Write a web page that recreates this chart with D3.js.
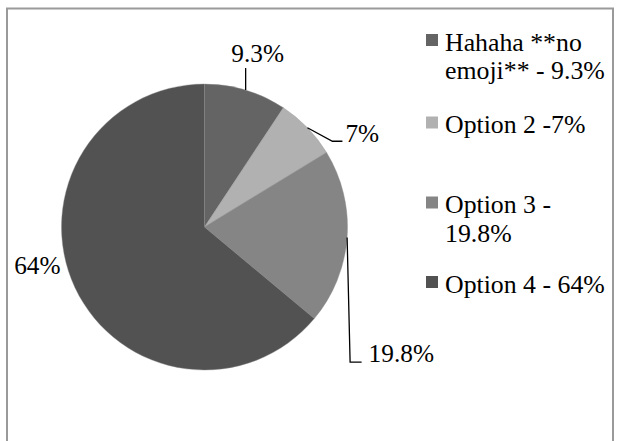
<!DOCTYPE html>
<html>
<head>
<meta charset="utf-8">
<script src="https://cdn.jsdelivr.net/npm/d3@7/dist/d3.min.js"></script>
</head>
<body style="margin:0">
<svg id="chart" width="621" height="441"></svg>
<script>
// Poll results
const categories = ["Hahaha **no emoji**", "Option 2", "Option 3", "Option 4"];
const values = [9.3, 7, 19.8, 64];
const valueLabels = ["9.3%", "7%", "19.8%", "64%"];
const legendLines = [
  ["Hahaha **no", "emoji** - 9.3%"],
  ["Option 2 -7%"],
  ["Option 3 -", "19.8%"],
  ["Option 4 - 64%"]
];
const colors = ["#646464", "#b1b1b1", "#858585", "#525252"];

const cx = 204.5, cy = 227, R = 143;
const labelFontSize = 25.3;
const legendFontSize = 25.8;
const fontFamily = "Times New Roman";

const svg = d3.select("#chart");

// Outer frame
svg.append("rect")
  .attr("x", 7).attr("y", 8.5)
  .attr("width", 606).attr("height", 460)
  .attr("fill", "#fff")
  .attr("stroke", "#9a9a9a")
  .attr("stroke-width", 2);

const data = categories.map((c, i) => ({ name: c, value: values[i], label: valueLabels[i], color: colors[i] }));

const pie = d3.pie().sort(null).value(d => d.value);
const arcs = pie(data);
const arc = d3.arc().innerRadius(0).outerRadius(R);

const g = svg.append("g").attr("transform", `translate(${cx},${cy})`);

g.selectAll("path.slice")
  .data(arcs)
  .join("path")
  .attr("class", "slice")
  .attr("d", arc)
  .attr("fill", d => d.data.color)
  .attr("stroke", "#8c8c8c")
  .attr("stroke-width", 0.4);

// Point on the rim at a slice's mid angle
function rimPoint(d) {
  const a = (d.startAngle + d.endAngle) / 2;
  return [R * Math.sin(a), -R * Math.cos(a)];
}

// Label placement relative to the rim anchor: text position, anchor, and leader bends
const labelLayout = [
  { tx: 12, ty: -28, anchor: "middle", leader: p => [p, [p[0], p[1] - 22]] },
  { tx: 38, ty: 14, anchor: "start", leader: p => [p, [p[0] + 25, p[1] + 13.5], [p[0] + 35, p[1] + 13.5]] },
  { tx: 21.5, ty: 124.5, anchor: "start", leader: p => [p, [p[0] + 3, p[1] + 124.5], [p[0] + 14.5, p[1] + 124.5]] },
  { tx: -14.5, ty: -14, anchor: "end", leader: null }
];

const line = d3.line();

arcs.forEach((d, i) => {
  const p = rimPoint(d);
  const L = labelLayout[i];
  if (L.leader) {
    g.append("path")
      .attr("d", line(L.leader(p)))
      .attr("fill", "none")
      .attr("stroke", "#000")
      .attr("stroke-width", 1.3);
  }
  g.append("text")
    .attr("x", p[0] + L.tx)
    .attr("y", p[1] + L.ty)
    .attr("text-anchor", L.anchor)
    .attr("font-family", fontFamily)
    .attr("font-size", labelFontSize)
    .text(d.data.label);
});

// Legend
const legendX = 426;
const legendRowTop = [34, 116.5, 196.5, 276];
const lineGap = 28.5;
const legend = svg.append("g");
data.forEach((d, i) => {
  const row = legend.append("g").attr("transform", `translate(${legendX},${legendRowTop[i]})`);
  row.append("rect")
    .attr("x", 0).attr("y", 0)
    .attr("width", 12).attr("height", 12)
    .attr("fill", d.color);
  const t = row.append("text")
    .attr("font-family", fontFamily)
    .attr("font-size", legendFontSize);
  legendLines[i].forEach((ln, k) => {
    t.append("tspan").attr("x", 19).attr("y", 16.5 + k * lineGap).text(ln);
  });
});
</script>
</body>
</html>
